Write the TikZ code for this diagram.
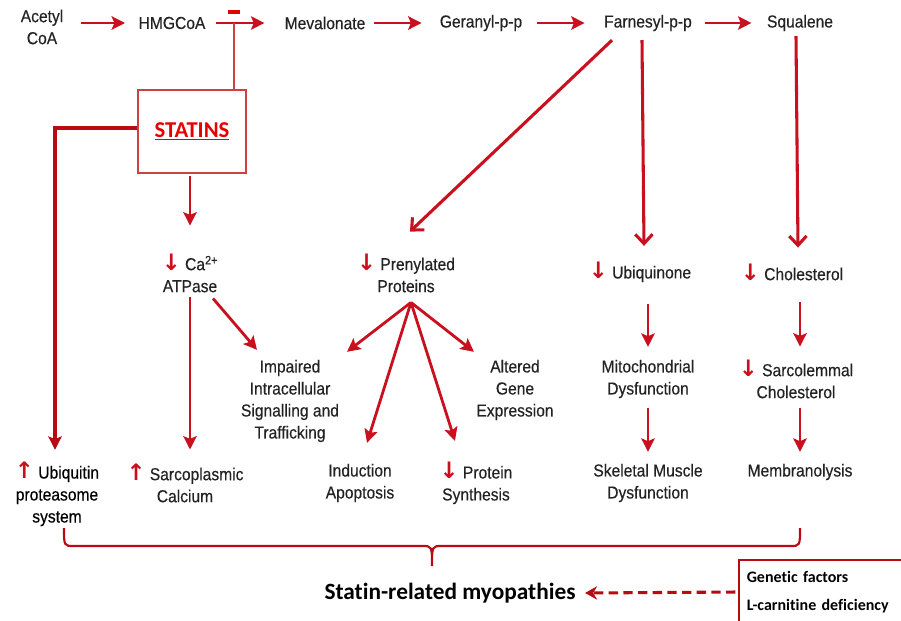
\documentclass[tikz,border=0pt]{standalone}
\usepackage{fontspec}
\setmainfont{Liberation Sans}[FakeStretch=0.9, UprightFeatures={FakeBold=0.35}]
\newfontfamily\calibri{Carlito}[Ligatures=NoCommon]
\newfontfamily\arrowfont{DejaVu Sans}
\usetikzlibrary{arrows.meta,calc,positioning}

\definecolor{arrowred}{RGB}{200,16,30}
\definecolor{darkline}{RGB}{185,10,20}
\definecolor{statred}{RGB}{230,0,0}
\definecolor{boxred}{RGB}{205,65,65}
\definecolor{textgray}{RGB}{35,35,35}

\newcommand{\dnarr}{{\color{arrowred}\arrowfont\bfseries\fontsize{17}{16}\selectfont ↓}}
\newcommand{\uparr}{{\color{arrowred}\arrowfont\bfseries\fontsize{17}{16}\selectfont ↑}}

\tikzset{
  txt/.style={inner sep=1pt, align=center, text=textgray,
    font=\fontsize{13}{16.5}\selectfont},
  arr/.style={draw=arrowred, line width=2.1pt,
    -{Stealth[length=10pt,width=10pt,inset=2pt]}},
  longarr/.style={draw=arrowred, line width=2.3pt,
    -{Straight Barb[length=7pt,width=13pt]}},
  thickline/.style={draw=darkline, line width=2.6pt,
    -{Stealth[length=10pt,width=10pt,inset=2pt]}},
  inhib/.style={draw=boxred, line width=1.5pt},
  statbox/.style={draw=boxred, line width=1.1pt, minimum width=81pt,
    minimum height=62.25pt, text=statred,
    font=\calibri\bfseries\fontsize{17}{19}\selectfont},
  brace/.style={draw=darkline, line width=1.6pt},
  factbox/.style={draw=darkline, line width=1.2pt, inner xsep=6pt,
    text width=114pt, minimum height=48pt, align=left,
    font=\calibri\bfseries\fontsize{12}{21}\selectfont},
  dasharr/.style={draw=darkline, line width=2.3pt, dash pattern=on 7pt off 4pt,
    shorten <=2pt, -{Stealth[length=9pt,width=10pt]}}
}

\begin{document}
\begin{tikzpicture}[x=0.75pt,y=-0.75pt]
\fill[white] (0,0) rectangle (901,621);
\useasboundingbox (0,0) rectangle (901,621);
\clip (0,0) rectangle (901,621);

% mevalonate pathway
\node[txt] (acetyl) at (42,27) {Acetyl\\CoA};
\node[txt] (hmg) at (172,23) {HMGCoA};
\node[txt] (meva) at (325,23) {Mevalonate};
\node[txt] (gera) at (481,23) {Geranyl-p-p};
\node[txt] (farn) at (648,23) {Farnesyl-p-p};
\node[txt] (squa) at (800,23) {Squalene};
\draw[arr, shorten <=12pt, shorten >=9pt] (acetyl.east |- hmg) -- (hmg);
\draw[arr, shorten <=7pt, shorten >=14pt] (hmg) -- (meva);
\draw[arr, shorten <=5pt, shorten >=12.5pt] (meva) -- (gera);
\draw[arr, shorten <=10pt, shorten >=13.5pt] (gera) -- (farn);
\draw[arr, shorten <=9pt, shorten >=10.5pt] (farn) -- (squa);

% statins
\node[fill=statred, minimum width=9pt, minimum height=3pt, inner sep=0pt] (minus) at (234,12) {};
\node[statbox] (statins) at (192,131.5) {\underline{STATINS}};
\draw[inhib] (minus |- hmg) -- (minus |- statins.north);

% effects
\node[txt] (ca) at (190,273) {\dnarr\ Ca\textsuperscript{2+}\\ATPase};
\node[txt] (pren) at (406,273) {\dnarr\ Prenylated\\Proteins};
\node[txt] (ubiqn) at (640,272) {\dnarr\ Ubiquinone};
\node[txt] (chol) at (792,272) {\dnarr\ Cholesterol};
\node[txt] (imp) at (290,401) {Impaired\\Intracellular\\Signalling and\\Trafficking};
\node[txt] (alt) at (515,390) {Altered\\Gene\\Expression};
\node[txt] (mito) at (648,379) {Mitochondrial\\Dysfunction};
\node[txt] (sarcol) at (796,379) {\dnarr\ Sarcolemmal\\Cholesterol};
\node[txt, text=black] (ubiq) at (57,494) {\uparr\ Ubiquitin\\proteasome\\system};
\node[txt] (sarco) at (185,483) {\uparr\ Sarcoplasmic\\Calcium};
\node[txt] (induc) at (360,483) {Induction\\Apoptosis};
\node[txt] (synth) at (476,483) {\dnarr\ Protein\\Synthesis};
\node[txt] (skel) at (648,483) {Skeletal Muscle\\Dysfunction};
\node[txt] (memb) at (800,472) {Membranolysis};

\draw[thickline] ($(statins.west)+(0,-3.5)$) -| ($(ubiq.north)+(-2,-10.5)$);
\draw[arr] ($(statins.south -| ca)+(0,2)$) -- ($(ca.north)+(0,-26.5)$);
\draw[arr] ($(ca.south)+(0,3.5)$) -- ($(ca.south |- sarco.north)+(0,-12.5)$);
\draw[arr] ($(ca.south)+(23,4.5)$) -- ($(imp.north)+(-33,-8.5)$);
\draw[longarr] ($(farn.south)+(-36,7.5)$) -- ($(pren.north)+(4,-20.5)$);
\coordinate (fan) at ($(pren.south)+(5,8.5)$);
\draw[arr] (fan) -- ($(imp.north)+(57,-6.5)$);
\draw[arr] (fan) -- ($(induc.north)+(7,-19.5)$);
\draw[arr] (fan) -- ($(synth.north)+(-21,-19.5)$);
\draw[arr] (fan) -- ($(alt.north)+(-41,-6.5)$);
\draw[longarr] ($(farn.south)+(-6,7.5)$) -- ($(ubiqn.north)+(4,-14.5)$);
\draw[arr] ($(ubiqn.south -| mito)+(0,20.5)$) -- ($(mito.north)+(0,-11.5)$);
\draw[arr] ($(mito.south)+(0,8.5)$) -- ($(skel.north)+(0,-10.5)$);
\draw[longarr] ($(squa.south)+(-4,3.5)$) -- ($(chol.north)+(6,-14.5)$);
\draw[arr] ($(chol.south -| sarcol)+(4,20.5)$) -- ($(sarcol.north)+(4,-11.5)$);
\draw[arr] ($(sarcol.south)+(4,8.5)$) -- ($(memb.north)+(0,-10.5)$);

% outcome
\draw[brace] (64,528) .. controls (64,546) .. (74,546) -- (422,546)
  .. controls (432,546) .. (432,566) .. controls (432,546) .. (442,546)
  -- (790,546) .. controls (800,546) .. (800,528);
\node[font=\calibri\bfseries\fontsize{17.5}{20}\selectfont, inner sep=1pt] (myo) at (450,593) {Statin-related myopathies};
\node[factbox, anchor=west] (fact) at (738,592) {Genetic factors\\L-carnitine deficiency};
\draw[dasharr] (fact.west) -- ($(myo.east)+(8,0)$);
\end{tikzpicture}
\end{document}
